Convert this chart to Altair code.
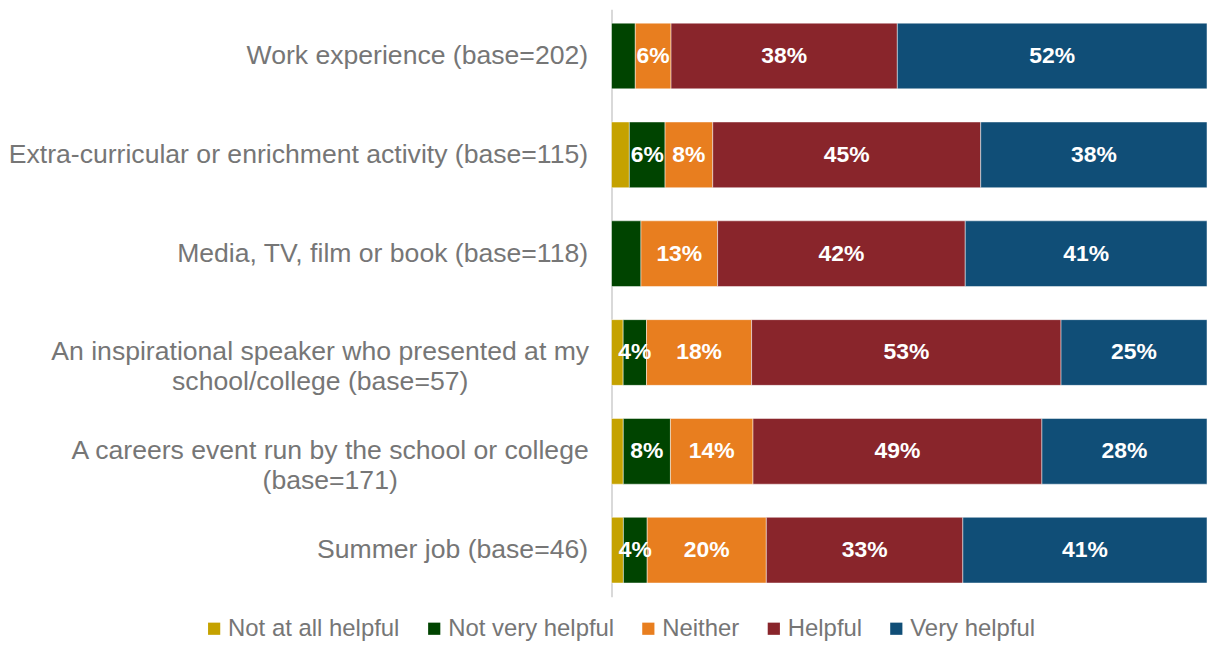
import altair as alt
import pandas as pd

categories = [
    "Work experience (base=202)",
    "Extra-curricular or enrichment activity (base=115)",
    "Media, TV, film or book (base=118)",
    "An inspirational speaker who presented at my school/college (base=57)",
    "A careers event run by the school or college (base=171)",
    "Summer job (base=46)",
]
series = ["Not at all helpful", "Not very helpful", "Neither", "Helpful", "Very helpful"]
colors = ["#C5A200", "#004400", "#E87E1F", "#89252B", "#104E77"]

not_at_all = [0, 3, 0, 2, 2, 2]
not_very = [4, 6, 5, 4, 8, 4]
neither = [6, 8, 13, 18, 14, 20]
helpful = [38, 45, 42, 53, 49, 33]
very = [52, 38, 41, 25, 28, 41]

labels_not_at_all = ["", "", "", "", "", ""]
labels_not_very = ["", "6%", "", "4%", "8%", "4%"]
labels_neither = ["6%", "8%", "13%", "18%", "14%", "20%"]
labels_helpful = ["38%", "45%", "42%", "53%", "49%", "33%"]
labels_very = ["52%", "38%", "41%", "25%", "28%", "41%"]

values = [not_at_all, not_very, neither, helpful, very]
labels = [labels_not_at_all, labels_not_very, labels_neither, labels_helpful, labels_very]

rows = []
for si, s in enumerate(series):
    for ci, c in enumerate(categories):
        rows.append({"cat": c, "series": s, "order": si, "value": values[si][ci], "label": labels[si][ci]})
df = pd.DataFrame(rows)

# two-line labels: (line 1, line 2, half-width of line 1 in px)
display = {
    categories[3]: ("An inspirational speaker who presented at my", "school/college (base=57)", 269),
    categories[4]: ("A careers event run by the school or college", "(base=171)", 259),
}
PAD = 24
expr = "datum.label"
for k, (l1, l2, half) in display.items():
    expr = f"datum.label == '{k}' ? ['{l1}', '{l2}'] : ({expr})"
align_test = " || ".join(f"datum.value == '{k}'" for k in display)

FONT = "Liberation Sans"
GREY = "#767676"

base = alt.Chart(df).transform_stack(
    stack="value", groupby=["cat"], as_=["x0", "x1"], offset="normalize",
    sort=[alt.SortField("order", order="ascending")],
).transform_calculate(mid="(datum.x0 + datum.x1) / 2")

axis = alt.Axis(
    labelExpr=expr, labelFont=FONT, labelFontSize=26.7,
    labelColor=GREY, labelLimit=800, labelLineHeight=30,
    labelAlign={"condition": {"test": align_test, "value": "center"}, "value": "right"},
    labelPadding={"condition": [
        {"test": f"datum.value == '{k}'", "value": PAD + v[2]} for k, v in display.items()
    ], "value": PAD},
    ticks=False, grid=False, domainColor="#D9D9D9", domainWidth=2,
)

y = alt.Y("cat:N", sort=categories, title=None,
          scale=alt.Scale(paddingInner=0.335, paddingOuter=0.14), axis=axis)

bars = base.mark_bar(stroke="#ffffff", strokeWidth=0.8, strokeOpacity=0.6).encode(
    x=alt.X("x0:Q", axis=None, scale=alt.Scale(domain=[0, 1], nice=False)),
    x2="x1:Q",
    y=y,
    color=alt.Color("series:N", sort=series,
                    scale=alt.Scale(domain=series, range=colors),
                    legend=alt.Legend(title=None, orient="none", direction="horizontal",
                                      legendX=-411, legendY=610,
                                      symbolType="square", symbolSize=150,
                                      symbolStrokeWidth=0, labelFont=FONT,
                                      labelFontSize=24, labelColor=GREY,
                                      labelLimit=400, columnPadding=22,
                                      symbolOffset=0, labelOffset=2)),
    order=alt.Order("order:Q"),
)

text = base.mark_text(color="white", fontWeight="bold", font=FONT, fontSize=23).encode(
    x=alt.X("mid:Q", axis=None, scale=alt.Scale(domain=[0, 1], nice=False)),
    y=alt.Y("cat:N", sort=categories),
    text="label:N",
)

chart = (bars + text).properties(
    width=598, height=590,
    padding={"left": 0, "right": 0, "top": 0, "bottom": 0},
    autosize=alt.AutoSizeParams(type="pad"),
).configure(background="white").configure_view(stroke=None)

chart.save("out.html", embed_options={"renderer": "svg", "actions": False})
